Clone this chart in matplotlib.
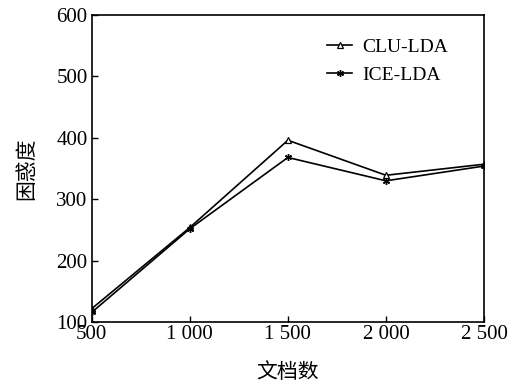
import matplotlib
matplotlib.use("Agg")
import matplotlib.pyplot as plt

docs = [500, 1000, 1500, 2000, 2500]
clu_lda = [122, 254, 396, 339, 357]
ice_lda = [116, 252, 368, 330, 354]
xtick_labels = ["500", "1 000", "1 500", "2 000", "2 500"]
yticks = [100, 200, 300, 400, 500, 600]

plt.rcParams['font.family'] = ['Liberation Serif', 'Noto Sans CJK SC']

fig = plt.figure(figsize=(5.1, 3.83), dpi=100)
ax = fig.add_axes([0.180, 0.159, 0.769, 0.802])

ax.plot(docs, clu_lda, color='black', lw=1.2, marker='^', ms=4.5,
        mfc='white', mec='black', mew=0.9, label='CLU-LDA')
ax.plot(docs, ice_lda, color='black', lw=1.2, marker=(6, 2, 0), ms=5,
        mec='black', mew=1.0, label='ICE-LDA')

ax.set_xlim(500, 2500)
ax.set_ylim(100, 600)
ax.set_xticks(docs)
ax.set_xticklabels(xtick_labels)
ax.set_yticks(yticks)
ax.tick_params(direction='in', length=4, width=1, labelsize=15, pad=2)
ax.tick_params(axis='y', pad=3)
for s in ax.spines.values():
    s.set_linewidth(1.2)

ax.set_xlabel('文档数', fontsize=15, family='Noto Sans CJK SC', labelpad=12)
ax.set_ylabel('困惑度', fontsize=15, family='Noto Sans CJK SC', labelpad=14)

leg = ax.legend(loc='upper left', bbox_to_anchor=(0.600, 0.925), frameon=False,
                fontsize=14, handlelength=1.3, handletextpad=0.5,
                labelspacing=0.55, borderpad=0, borderaxespad=0)

fig.savefig('out.png', dpi=100)
